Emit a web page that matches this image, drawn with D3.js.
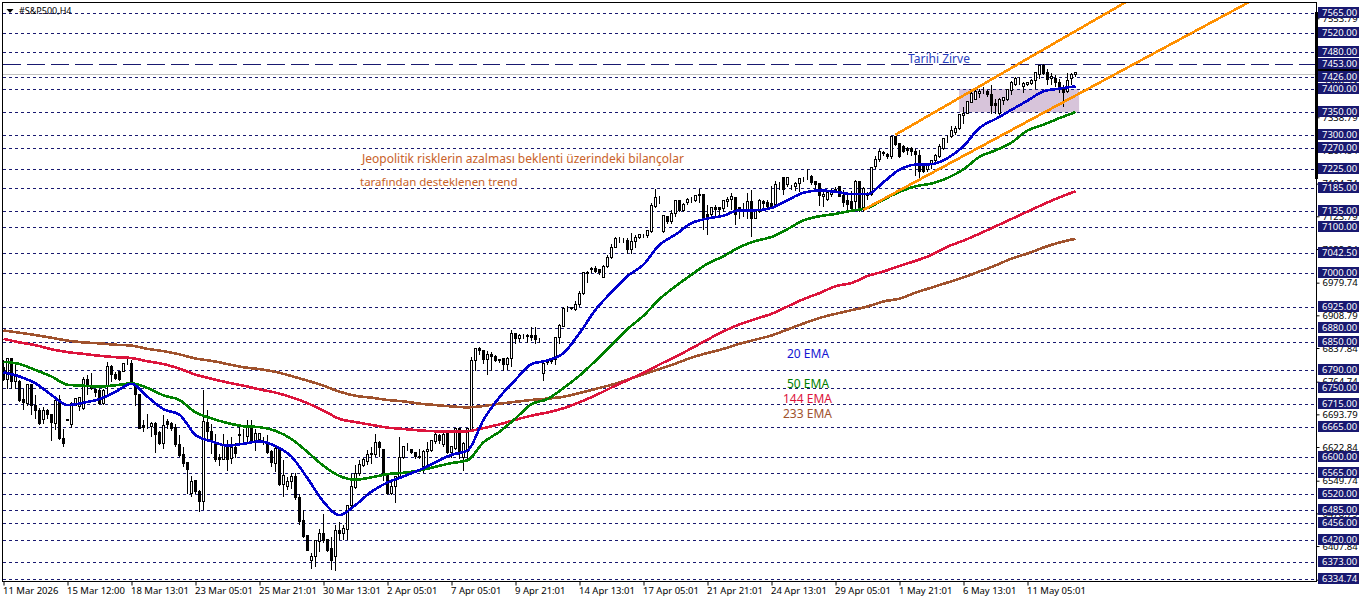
<!DOCTYPE html>
<html lang="tr">
<head>
    <meta charset="UTF-8">
    <title>#S&amp;P500,H4</title>
    <script src="https://cdn.jsdelivr.net/npm/d3@7"></script>
    <style>
        html, body { margin: 0; padding: 0; background: #fff; }
        svg { display: block; font-family: "Noto Sans", sans-serif; }
    </style>
</head>
<body>
<script>
    // candles, one value per H4 bar
    var opens = [
        6795,6770,6814,6765,6766,6727,6718,6759,6714,6703,
        6682,6703,6694,6675,6725,6642,6682,6671,6714,6710,
        6706,6769,6750,6747,6745,6718,6754,6798,6780,6787,
        6787,6805,6805,6760,6736,6669,6667,6668,6675,6654,
        6630,6678,6675,6666,6629,6606,6589,6521,6550,6527,
        6504,6677,6656,6633,6600,6596,6625,6597,6622,6648,
        6648,6646,6669,6635,6640,6637,6628,6613,6588,6618,
        6541,6537,6548,6559,6514,6464,6430,6376,6385,6418,
        6436,6421,6403,6386,6441,6436,6444,6495,6536,6565,
        6582,6591,6606,6607,6633,6617,6562,6522,6537,6559,
        6601,6620,6618,6612,6603,6580,6614,6615,6635,6648,
        6628,6653,6612,6620,6664,6601,6613,6660,6811,6837,
        6832,6813,6823,6819,6813,6814,6801,6816,6869,6859,
        6864,6865,6866,6866,6857,6783,6810,6811,6812,6861,
        6885,6925,6925,6921,6932,6956,7000,7008,7011,7008,
        6992,7014,7035,7057,7075,7073,7071,7052,7070,7077,
        7082,7082,7091,7146,7165,7091,7124,7112,7129,7158,
        7137,7153,7160,7159,7168,7171,7127,7127,7143,7142,
        7140,7157,7160,7165,7143,7136,7135,7156,7120,7135,
        7156,7153,7151,7149,7192,7207,7192,7191,7188,7196,
        7205,7209,7211,7199,7195,7166,7161,7171,7183,7188,
        7169,7159,7156,7157,7200,7142,7170,7171,7231,7247,
        7263,7259,7254,7297,7281,7276,7272,7272,7265,7255,
        7232,7226,7236,7245,7254,7272,7294,7296,7306,7315,
        7342,7348,7371,7378,7390,7395,7394,7389,7368,7347,
        7375,7378,7397,7410,7424,7406,7410,7413,7419,7431,
        7451,7437,7422,7424,7415,7402,7395,7422,7431]
    var highs = [
        6812,6818,6818,6805,6769,6750,6761,6761,6736,6709,
        6711,6707,6694,6734,6736,6664,6683,6722,6731,6733,
        6776,6780,6785,6751,6750,6750,6809,6801,6787,6788,
        6806,6814,6812,6761,6738,6682,6695,6678,6678,6658,
        6693,6685,6678,6675,6649,6624,6591,6562,6551,6530,
        6747,6705,6675,6653,6609,6653,6640,6646,6633,6669,
        6664,6682,6683,6664,6654,6646,6649,6617,6624,6620,
        6596,6559,6567,6567,6523,6488,6431,6394,6420,6446,
        6479,6425,6428,6454,6461,6454,6497,6566,6584,6595,
        6601,6617,6624,6653,6637,6617,6564,6551,6562,6646,
        6627,6633,6620,6614,6620,6617,6635,6640,6654,6653,
        6656,6656,6627,6666,6666,6635,6666,6820,6838,6841,
        6835,6832,6830,6823,6816,6816,6819,6877,6871,6869,
        6869,6869,6884,6884,6861,6809,6814,6816,6863,6890,
        6928,6931,6927,6941,6963,7004,7007,7015,7017,7011,
        7019,7041,7064,7079,7079,7078,7077,7089,7084,7086,
        7086,7095,7154,7185,7169,7128,7125,7138,7159,7159,
        7153,7164,7166,7172,7185,7172,7149,7146,7149,7146,
        7160,7167,7175,7167,7146,7154,7175,7183,7138,7162,
        7160,7160,7190,7202,7200,7211,7211,7193,7200,7207,
        7211,7227,7214,7202,7198,7178,7180,7185,7188,7189,
        7182,7171,7180,7204,7202,7188,7178,7232,7255,7270,
        7266,7262,7299,7299,7283,7279,7276,7276,7272,7268,
        7238,7241,7248,7261,7281,7295,7301,7321,7321,7347,
        7362,7376,7402,7399,7402,7406,7400,7411,7379,7381,
        7384,7402,7419,7428,7428,7417,7417,7424,7439,7453,
        7455,7444,7435,7431,7424,7410,7435,7435,7437]
    var lows = [
        6768,6750,6750,6751,6722,6705,6714,6693,6685,6671,
        6673,6685,6638,6660,6640,6625,6680,6666,6712,6703,
        6704,6736,6748,6732,6716,6716,6734,6765,6769,6768,
        6786,6801,6761,6714,6664,6657,6664,6646,6611,6628,
        6620,6664,6658,6625,6602,6580,6521,6515,6523,6483,
        6488,6638,6609,6591,6582,6595,6572,6588,6601,6633,
        6635,6633,6633,6615,6637,6628,6609,6580,6570,6539,
        6515,6530,6533,6510,6454,6427,6398,6360,6363,6396,
        6415,6396,6357,6355,6421,6421,6421,6494,6533,6562,
        6580,6584,6588,6602,6602,6551,6519,6519,6502,6555,
        6598,6615,6609,6598,6598,6567,6580,6613,6630,6630,
        6625,6609,6601,6617,6598,6572,6595,6656,6790,6823,
        6805,6780,6790,6808,6806,6790,6792,6798,6848,6852,
        6859,6850,6854,6847,6850,6767,6803,6805,6803,6847,
        6885,6918,6921,6920,6927,6955,6979,7001,7001,6997,
        6992,7012,7033,7055,7067,7066,7043,7044,7055,7075,
        7077,7078,7089,7143,7151,7089,7108,7109,7124,7135,
        7135,7149,7154,7157,7154,7095,7084,7124,7124,7128,
        7135,7146,7138,7106,7118,7124,7120,7080,7118,7133,
        7142,7140,7141,7142,7182,7172,7189,7182,7180,7178,
        7200,7204,7193,7185,7147,7146,7159,7166,7178,7166,
        7146,7138,7138,7138,7135,7135,7160,7168,7228,7243,
        7255,7250,7250,7277,7252,7262,7257,7255,7212,7203,
        7218,7221,7228,7236,7252,7268,7283,7294,7301,7313,
        7326,7346,7370,7377,7381,7390,7384,7347,7347,7344,
        7366,7376,7388,7407,7410,7392,7407,7410,7402,7422,
        7431,7410,7410,7406,7392,7363,7392,7410,7428]
    var closes = [
        6769,6814,6765,6780,6723,6720,6759,6714,6702,6673,
        6703,6693,6676,6724,6641,6630,6681,6718,6728,6731,
        6770,6754,6752,6741,6718,6745,6798,6780,6771,6769,
        6805,6805,6762,6736,6664,6666,6668,6675,6651,6630,
        6669,6671,6664,6628,6604,6588,6573,6549,6526,6504,
        6678,6656,6637,6595,6595,6628,6595,6622,6608,6651,
        6648,6667,6633,6653,6653,6637,6611,6589,6620,6541,
        6560,6549,6559,6514,6462,6428,6399,6386,6419,6436,
        6420,6399,6376,6441,6436,6445,6495,6537,6566,6584,
        6595,6607,6609,6633,6622,6562,6521,6538,6559,6601,
        6624,6620,6611,6602,6601,6614,6617,6637,6649,6637,
        6649,6612,6624,6664,6613,6631,6662,6811,6837,6832,
        6812,6823,6819,6811,6811,6803,6816,6869,6859,6866,
        6864,6863,6861,6856,6856,6805,6806,6809,6861,6886,
        6923,6926,6923,6932,6957,7001,7002,7011,7004,7002,
        7014,7035,7055,7075,7075,7073,7051,7070,7077,7084,
        7082,7093,7147,7164,7165,7125,7112,7129,7158,7136,
        7149,7161,7161,7169,7171,7119,7120,7142,7138,7138,
        7158,7161,7166,7128,7138,7136,7156,7120,7135,7159,
        7151,7146,7144,7193,7193,7183,7207,7191,7196,7205,
        7205,7209,7198,7193,7169,7172,7176,7180,7180,7167,
        7154,7149,7141,7200,7138,7185,7174,7229,7247,7265,
        7260,7254,7296,7279,7253,7265,7267,7265,7258,7221,
        7221,7236,7245,7256,7276,7292,7294,7310,7315,7344,
        7348,7372,7391,7394,7395,7395,7389,7365,7365,7377,
        7381,7399,7415,7423,7424,7413,7415,7419,7435,7451,
        7433,7420,7427,7415,7402,7393,7419,7431,7435]

    // moving averages
    var emaBarStep = 4
    var ema20 = [6785,6776,6761,6736,6714,6719,6727,6743,6760,6732,6705,6693,6649,6635,6626,6630,6635,
        6625,6602,6555,6504,6475,6497,6526,6546,6559,6573,6590,6606,6615,6682,6731,6769,6803,
        6811,6827,6870,6921,6959,6994,7019,7062,7084,7109,7119,7125,7137,7137,7142,7159,7175,
        7180,7177,7172,7172,7198,7225,7236,7237,7250,7276,7316,7335,7355,7375,7395,7401,7406]
    var ema50 = [6808,6803,6790,6776,6758,6756,6754,6757,6761,6751,6735,6725,6698,6685,6675,6668,6666,
        6658,6640,6612,6582,6560,6552,6557,6564,6567,6572,6580,6588,6594,6633,6656,6685,6716,
        6727,6751,6778,6810,6844,6879,6908,6944,6972,6997,7021,7037,7057,7070,7079,7096,7115,
        7124,7129,7136,7142,7160,7177,7189,7195,7207,7226,7253,7267,7284,7310,7323,7337,7350]
    var ema144 = [6858,6850,6844,6835,6829,6825,6821,6818,6816,6809,6803,6793,6780,6771,6763,6756,6748,
        6741,6731,6718,6702,6684,6677,6671,6665,6662,6659,6657,6656,6657,6664,6672,6682,6691,
        6698,6707,6720,6735,6752,6768,6784,6802,6819,6837,6856,6874,6889,6901,6912,6928,6944,
        6957,6972,6979,6994,7004,7016,7027,7040,7058,7071,7086,7102,7118,7134,7150,7165,7178]
    var ema233 = [6876,6871,6866,6860,6854,6850,6848,6845,6843,6836,6831,6824,6815,6810,6803,6796,6792,
        6786,6777,6767,6756,6743,6734,6730,6725,6722,6717,6714,6711,6709,6712,6717,6721,6725,
        6728,6732,6740,6749,6758,6769,6781,6792,6804,6817,6827,6836,6847,6856,6865,6878,6891,
        6903,6912,6920,6928,6939,6945,6958,6969,6980,6991,7004,7017,7032,7043,7056,7067,7075]

    // price levels of the dashed lines
    var levels = [7565,7520,7480,7426,7400,7350,7300,7270,7225,7185,7135,7100,7042.5,7000,
        6925,6880,6850,6790,6750,6715,6665,6600,6565,6520,6485,6456,6420,6373,6334.74]
    var athLevel = 7453
    var bidLevel = 7431
    var priceTicks = [7553.79,7482.84,7409.74,7338.79,7267.84,7194.74,7123.79,7052.84,6979.74,6908.79,
        6837.84,6764.74,6693.79,6622.84,6549.74,6478.79,6407.84,6334.74]

    // date labels, one per 16 bars
    var dateBarStep = 16
    var dateLabels = ['11 Mar 2026','15 Mar 12:00','18 Mar 13:01','23 Mar 05:01','25 Mar 21:01','30 Mar 13:01',
        '2 Apr 05:01','7 Apr 05:01','9 Apr 21:01','14 Apr 13:01','17 Apr 05:01','21 Apr 21:01',
        '24 Apr 13:01','29 Apr 05:01','1 May 21:01','6 May 13:01','11 May 05:01']

    // channel lines and box as [bar, price]
    var channelUpper = [[223, 7301], [280.4, 7588]]
    var channelLower = [[215, 7138], [311.2, 7588]]
    var boxBars = [238.9, 268.9]
    var boxPrices = [7400, 7350]

    var width = 1362
        height = 603
        plot = {left: 2.5, right: 1316.5, top: 2.5, bottom: 581.5}
        navy = '#191970'

    var svg = d3.select('body')
        .append('svg')
        .attr('width', width)
        .attr('height', height)

    var xScale = d3.scaleLinear().domain([0, 268]).range([3.5, 1075.5])
    var yScale = d3.scaleLinear().domain([6373, 7565]).range([562.1, 13.1])
    var snap = v => Math.floor(v) + 0.5

    svg.append('defs').append('clipPath')
        .attr('id', 'plotClip')
        .append('rect')
        .attr('x', plot.left)
        .attr('y', plot.top)
        .attr('width', plot.right - plot.left)
        .attr('height', plot.bottom - plot.top)

    var chart = svg.append('g').attr('clip-path', 'url(#plotClip)')

    // box under everything
    chart.append('rect')
        .attr('x', xScale(boxBars[0]))
        .attr('y', yScale(boxPrices[0]))
        .attr('width', xScale(boxBars[1]) - xScale(boxBars[0]))
        .attr('height', yScale(boxPrices[1]) - yScale(boxPrices[0]))
        .attr('fill', '#d7c4da')

    chart.selectAll('.level')
        .data(levels)
        .enter()
        .append('line')
        .attr('class', 'level')
        .attr('x1', plot.left)
        .attr('x2', plot.right)
        .attr('y1', d => snap(yScale(d)))
        .attr('y2', d => snap(yScale(d)))
        .attr('stroke', navy)
        .attr('stroke-dasharray', '3,3')
        .attr('shape-rendering', 'crispEdges')

    chart.append('line')
        .attr('x1', plot.left)
        .attr('x2', plot.right)
        .attr('y1', snap(yScale(athLevel)))
        .attr('y2', snap(yScale(athLevel)))
        .attr('stroke', navy)
        .attr('stroke-dasharray', '18,6')
        .attr('shape-rendering', 'crispEdges')

    chart.append('line')
        .attr('x1', plot.left)
        .attr('x2', plot.right)
        .attr('y1', snap(yScale(bidLevel)))
        .attr('y2', snap(yScale(bidLevel)))
        .attr('stroke', '#c0c0c0')
        .attr('shape-rendering', 'crispEdges')

    // candles
    var bars = d3.range(opens.length)
    chart.selectAll('.wick')
        .data(bars)
        .enter()
        .append('line')
        .attr('class', 'wick')
        .attr('x1', i => xScale(i))
        .attr('x2', i => xScale(i))
        .attr('y1', i => snap(yScale(highs[i])))
        .attr('y2', i => snap(yScale(lows[i])))
        .attr('stroke', '#000')
        .attr('shape-rendering', 'crispEdges')

    chart.selectAll('.body')
        .data(bars)
        .enter()
        .append('rect')
        .attr('class', 'body')
        .attr('x', i => xScale(i) - 1)
        .attr('y', i => snap(yScale(Math.max(opens[i], closes[i]))))
        .attr('width', 2)
        .attr('height', i => Math.max(0, snap(yScale(Math.min(opens[i], closes[i]))) - snap(yScale(Math.max(opens[i], closes[i])))))
        .attr('fill', i => closes[i] >= opens[i] ? '#fff' : '#000')
        .attr('stroke', '#000')
        .attr('shape-rendering', 'crispEdges')

    // moving averages
    var emaLine = d3.line()
        .x((d, k) => xScale(k * emaBarStep))
        .y(d => yScale(d))
        .curve(d3.curveMonotoneX)

    var emaSeries = [
        {values: ema233, color: '#a0522d'},
        {values: ema144, color: '#dc143c'},
        {values: ema50, color: '#008000'},
        {values: ema20, color: '#0000cd'}
    ]
    chart.selectAll('.ema')
        .data(emaSeries)
        .enter()
        .append('path')
        .attr('class', 'ema')
        .attr('d', d => emaLine(d.values))
        .attr('fill', 'none')
        .attr('stroke', d => d.color)
        .attr('stroke-width', 2.6)
        .attr('shape-rendering', 'crispEdges')

    // channel
    var channelLine = d3.line()
        .x(d => xScale(d[0]))
        .y(d => yScale(d[1]))
    chart.selectAll('.channel')
        .data([channelUpper, channelLower])
        .enter()
        .append('path')
        .attr('class', 'channel')
        .attr('d', channelLine)
        .attr('fill', 'none')
        .attr('stroke', '#ff9000')
        .attr('stroke-width', 2.6)
        .attr('shape-rendering', 'crispEdges')

    // frame
    svg.append('rect')
        .attr('x', plot.left)
        .attr('y', plot.top)
        .attr('width', plot.right - plot.left)
        .attr('height', plot.bottom - plot.top)
        .attr('fill', 'none')
        .attr('stroke', '#000')
        .attr('shape-rendering', 'crispEdges')

    svg.append('rect')
        .attr('x', 1315)
        .attr('y', 12)
        .attr('width', 3)
        .attr('height', 167)
        .attr('fill', '#000')

    // date axis
    var dateAxis = d3.axisBottom(xScale)
        .tickValues(dateLabels.map((d, k) => k * dateBarStep))
        .tickFormat((d, k) => dateLabels[k])
        .tickSize(4)
        .tickPadding(2)
    var dateG = svg.append('g')
        .attr('transform', `translate(0, ${plot.bottom})`)
        .call(dateAxis)
    dateG.select('.domain').remove()
    dateG.selectAll('text')
        .attr('text-anchor', 'start')
        .attr('dx', -1)
        .attr('font-family', '"Noto Sans", sans-serif')
        .attr('font-size', 9.5)
        .attr('fill', '#000')

    // price axis, the levels' tags sit on top of it
    var priceAxis = d3.axisRight(yScale)
        .tickValues(priceTicks)
        .tickFormat(d3.format('.2f'))
        .tickSize(3)
        .tickPadding(3)
    var priceG = svg.append('g')
        .attr('transform', `translate(${plot.right}, 0)`)
        .call(priceAxis)
    priceG.select('.domain').remove()
    priceG.selectAll('text')
        .attr('font-family', '"Noto Sans", sans-serif')
        .attr('font-size', 9.5)
        .attr('fill', '#000')

    svg.append('rect')
        .attr('x', plot.right)
        .attr('y', 69)
        .attr('width', 1359 - plot.right)
        .attr('height', 2)
        .attr('fill', '#000')

    var tags = svg.selectAll('.tag')
        .data(levels.concat(athLevel))
        .enter()
        .append('g')
        .attr('class', 'tag')
        .attr('transform', d => `translate(1318, ${Math.floor(yScale(d))})`)
    tags.append('rect')
        .attr('x', 0)
        .attr('y', -6)
        .attr('width', 41)
        .attr('height', 11)
        .attr('fill', navy)
    tags.append('text')
        .attr('x', 4)
        .attr('y', 3)
        .attr('font-size', 9.5)
        .attr('fill', '#fff')
        .text(d => d3.format('.2f')(d))

    // title
    svg.append('path')
        .attr('d', 'M6.5,9 L13.5,9 L10,13 Z')
        .attr('fill', '#000')
    svg.append('text')
        .attr('x', 19)
        .attr('y', 14)
        .attr('font-size', 9)
        .attr('fill', '#000')
        .text('#S&P500,H4')

    // notes on the chart
    var notes = [
        {text: 'Tarihi Zirve', x: 908, y: 63, size: 12, color: '#2a3fc0'},
        {text: 'Jeopolitik risklerin azalması beklenti üzerindeki bilançolar', x: 362, y: 163, size: 12, color: '#c8622a'},
        {text: 'tarafından desteklenen trend', x: 360, y: 186, size: 11.5, color: '#c8622a'},
        {text: '20 EMA', x: 787, y: 358, size: 12, color: '#1414d2'},
        {text: '50 EMA', x: 787, y: 388, size: 12, color: '#008000'},
        {text: '144 EMA', x: 783, y: 403, size: 12, color: '#dc143c'},
        {text: '233 EMA', x: 783, y: 418, size: 12, color: '#a0522d'}
    ]
    svg.selectAll('.note')
        .data(notes)
        .enter()
        .append('text')
        .attr('class', 'note')
        .attr('x', d => d.x)
        .attr('y', d => d.y)
        .attr('font-size', d => d.size)
        .attr('fill', d => d.color)
        .text(d => d.text)
</script>
</body>
</html>
